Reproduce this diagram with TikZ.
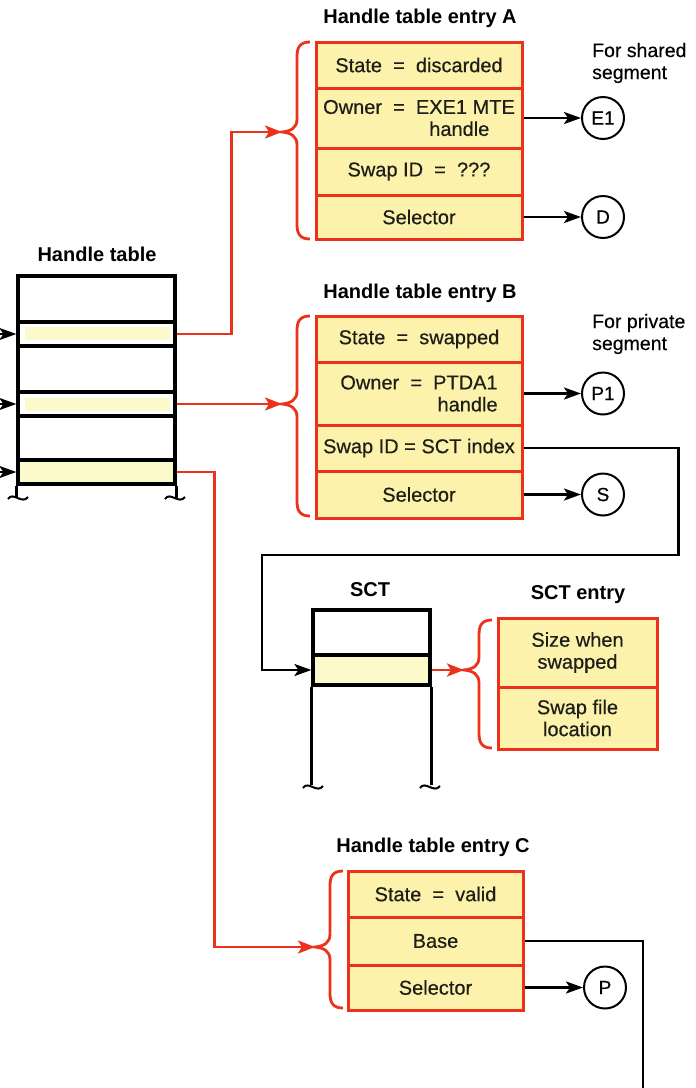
\documentclass[tikz,border=0pt]{standalone}
\usepackage{fontspec}
\setmainfont{Liberation Sans}
\usetikzlibrary{arrows.meta}
\definecolor{yel}{RGB}{252,242,172}
\definecolor{pale}{RGB}{252,249,202}
\definecolor{redc}{RGB}{236,50,28}
\definecolor{ink}{RGB}{30,30,25}
\newcommand\mybody{\fontsize{20}{22}\selectfont\addfontfeatures{FakeBold=0.4}}
\newcommand\mytitle{\fontsize{20}{22}\selectfont\bfseries}
\newcommand\mynote{\fontsize{19.5}{22}\selectfont\addfontfeatures{FakeBold=0.3}}
\newcommand\mycirc{\fontsize{19}{20}\selectfont\addfontfeatures{FakeBold=0.4}}
\newcommand\redbrace[5]{%
  \draw[brc] (#2,#3) .. controls (#2-10,#3) and (#2-13,#3+5) .. (#2-13,#3+15)
    -- (#2-13,#4-13) .. controls (#2-13,#4-4) and (#2-19,#4-1) .. (#2-28,#4)
    .. controls (#2-19,#4+1) and (#2-13,#4+4) .. (#2-13,#4+13)
    -- (#2-13,#5-15) .. controls (#2-13,#5-5) and (#2-10,#5) .. (#2,#5);
  \coordinate (#1) at (#2-28,#4);}
\newcommand\squig[2]{%
  \draw[line width=2pt] (#1-10,#2+3) .. controls (#1-5,#2-5) and (#1+4,#2+9) .. (#1+10,#2+1);}
\tikzset{
  row/.style={draw=redc, fill=yel, line width=3pt, inner sep=0pt, align=center, font=\mybody, text=ink},
  brc/.style={draw=redc, line width=2.8pt},
  redarr/.style={draw=redc, line width=2.8pt, -{Stealth[length=17pt,width=13pt,inset=4pt]}},
  arr/.style={line width=2.5pt, -{Stealth[length=17pt,width=12pt,inset=4pt]}},
  circ/.style={circle, draw, line width=2pt, minimum size=42pt, inner sep=0pt, font=\mycirc},
  tbl/.style={draw, line width=3.2pt, inner sep=0pt},
  title/.style={font=\mytitle, inner sep=0pt},
  note/.style={font=\mynote, align=left, inner sep=0pt},
}
\begin{document}
\begin{tikzpicture}[x=1pt,y=-1pt]
\useasboundingbox[fill=white] (0,0) rectangle (696,1088);

% ---------- Handle table ----------
\node[title] (tht) at (97,254) {Handle table};
\fill[pale] (25,327) rectangle (170,340);
\fill[pale] (25,398) rectangle (170,411);
\node[tbl, minimum width=157pt, minimum height=46pt] (h0) at (96.5,299) {};
\node[tbl, minimum width=157pt, minimum height=24pt] (h1) at (96.5,334) {};
\node[tbl, minimum width=157pt, minimum height=46pt] (h2) at (96.5,369) {};
\node[tbl, minimum width=157pt, minimum height=24pt] (h3) at (96.5,404) {};
\node[tbl, minimum width=157pt, minimum height=44pt] (h4) at (96.5,438) {};
\node[tbl, minimum width=157pt, minimum height=24pt, fill=pale] (h5) at (96.5,472) {};
\draw[line width=3pt] (h5.south west) -- ++(0,12);
\draw[line width=3pt] (h5.south east) -- ++(0,12);
\squig{18}{496}
\squig{175}{496}
\coordinate (in1) at (0,334);
\coordinate (in2) at (0,404);
\coordinate (in3) at (0,472);
\draw[arr] (in1) -- (h1.west);
\draw[arr] (in2) -- (h3.west);
\draw[arr] (in3) -- (h5.west);

% ---------- Entry A ----------
\node[title] (tA) at (420,18) {Handle table entry A};
\node[row, minimum width=206pt, minimum height=46pt] (A1) at (419,65) {State ~=~ discarded};
\node[row, minimum width=206pt, minimum height=60pt, align=left] (A2) at (419,118) {Owner ~=~ EXE1 MTE\\\phantom{Owner ~=~ E}handle};
\node[row, minimum width=206pt, minimum height=47pt] (A3) at (419,171.5) {Swap ID ~=~ ???};
\node[row, minimum width=206pt, minimum height=44pt] (A4) at (419,217) {Selector};
\redbrace{bA}{310}{42}{132}{239}
\node[circ] (cE1) at (603,118) {E1};
\node[circ] (cD) at (603,217) {D};
\draw[arr] (A2.east) -- (cE1);
\draw[arr] (A4.east) -- (cD);
\node[note, anchor=west] (nA) at (592,63) {For shared\\segment};

% ---------- Entry B ----------
\node[title] (tB) at (420,293) {Handle table entry B};
\node[row, minimum width=206pt, minimum height=46pt] (B1) at (419,339) {State ~=~ swapped};
\node[row, minimum width=206pt, minimum height=63pt, align=right] (B2) at (419,393.5) {Owner ~=~ PTDA1\\handle};
\node[row, minimum width=206pt, minimum height=46pt] (B3) at (419,448) {Swap ID = SCT index};
\node[row, minimum width=206pt, minimum height=47pt] (B4) at (419,494.5) {Selector};
\redbrace{bB}{310}{316}{404}{516}
\node[circ] (cP1) at (603,393.5) {P1};
\node[circ] (cS) at (603,494.5) {S};
\draw[arr] (B2.east) -- (cP1);
\draw[arr] (B4.east) -- (cS);
\node[note, anchor=west] (nB) at (592,334) {For private\\segment};

% ---------- SCT ----------
\node[title] (tS) at (370,590) {SCT};
\node[tbl, minimum width=117pt, minimum height=45pt] (t0) at (371.5,632.5) {};
\node[tbl, minimum width=117pt, minimum height=30pt, fill=pale] (t1) at (371.5,670) {};
\draw[line width=3pt] (t1.south west) -- ++(0,98);
\draw[line width=3pt] (t1.south east) -- ++(0,98);
\squig{313}{785}
\squig{430}{785}

\node[title] (tSE) at (578,595) {SCT entry};
\node[row, minimum width=159pt, minimum height=69pt] (S1) at (577.5,652.5) {Size when\\swapped};
\node[row, minimum width=159pt, minimum height=62pt] (S2) at (577.5,718) {Swap file\\location};
\redbrace{bS}{492}{620}{670}{748}

% ---------- Entry C ----------
\node[title] (tC) at (433,847) {Handle table entry C};
\node[row, minimum width=175pt, minimum height=46pt] (C1) at (435.5,894) {State ~=~ valid};
\node[row, minimum width=175pt, minimum height=48pt] (C2) at (435.5,941) {Base};
\node[row, minimum width=175pt, minimum height=45pt] (C3) at (435.5,987.5) {Selector};
\redbrace{bC}{343}{871}{947}{1008}
\node[circ] (cP) at (605,987.5) {P};
\draw[arr] (C3.east) -- (cP);
\coordinate (bend) at (643,1088);
\draw[line width=2.5pt] (C2.east) -| (bend);

% ---------- connectors ----------
\draw[redarr] (h1.east) -- ++(55,0) |- (bA);
\draw[redarr] (h3.east) -- (bB);
\draw[redarr] (h5.east) -- ++(38,0) |- (bC);
\draw[redarr] (t1.east) -- (bS);
\coordinate (w1) at (262,555);
\draw[arr] (B3.east) -- ++(155,0) |- (w1) |- (t1.west);
\end{tikzpicture}
\end{document}
